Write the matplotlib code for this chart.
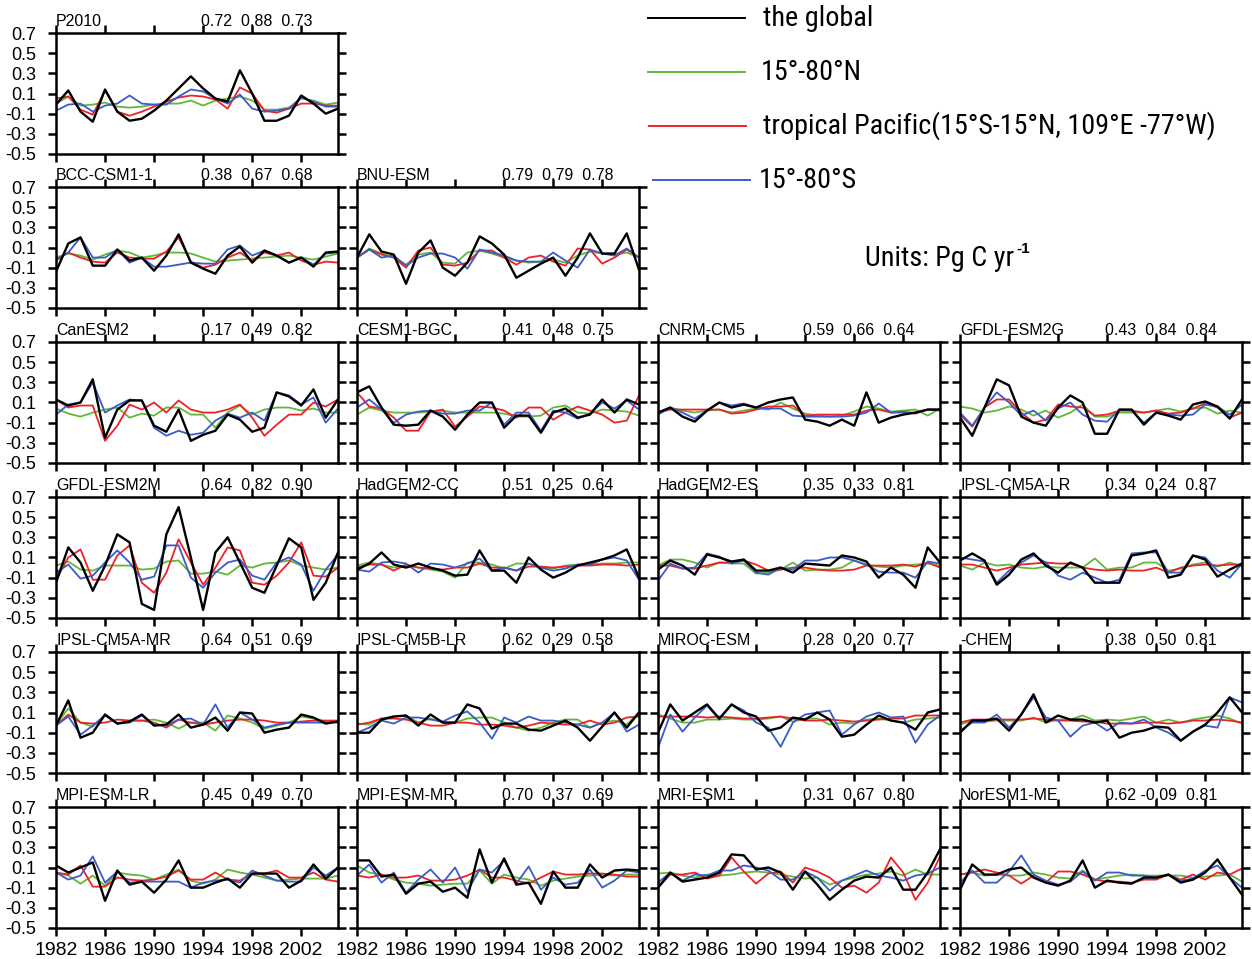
import os
import numpy as np
import matplotlib
matplotlib.use("Agg")
import matplotlib.pyplot as plt
from matplotlib import font_manager
from matplotlib.font_manager import FontProperties

# ---- data (Pg C / yr anomalies), 1982-2005 ----
years = list(range(1982, 2006))

P2010_GLB = [-0.01, 0.13, -0.08, -0.18, 0.14, -0.08, -0.17, -0.15, -0.07, 0.03, 0.15, 0.27, 0.15, 0.05, 0.02, 0.33, 0.10, -0.17, -0.17, -0.12, 0.08, 0.00, -0.10, -0.05]
P2010_NH = [0.00, 0.07, -0.02, -0.01, 0.01, -0.03, -0.04, -0.03, -0.01, 0.00, 0.00, 0.03, -0.02, 0.03, 0.05, 0.07, 0.03, -0.06, -0.06, -0.04, 0.05, 0.03, -0.01, 0.01]
P2010_TP = [0.05, 0.07, -0.06, -0.11, 0.13, -0.08, -0.12, -0.08, -0.03, 0.02, 0.06, 0.08, 0.07, 0.04, -0.05, 0.16, 0.10, -0.07, -0.09, -0.05, 0.00, 0.00, -0.02, -0.02]
P2010_SH = [-0.07, -0.01, 0.00, -0.08, -0.02, 0.00, 0.08, 0.00, -0.01, -0.01, 0.07, 0.14, 0.12, 0.05, 0.00, 0.09, -0.05, -0.08, -0.07, -0.05, 0.06, 0.02, -0.03, -0.03]

BCC_GLB = [-0.14, 0.14, 0.20, -0.08, -0.08, 0.08, -0.03, 0.00, -0.13, 0.02, 0.23, -0.05, -0.11, -0.16, 0.02, 0.11, -0.05, 0.07, 0.02, -0.05, 0.00, -0.09, 0.05, 0.06]
BCC_NH = [0.00, 0.04, 0.02, -0.02, 0.03, 0.07, 0.05, 0.00, 0.02, 0.05, 0.05, 0.04, 0.00, -0.04, -0.03, -0.02, -0.01, 0.00, 0.01, 0.02, 0.00, -0.02, 0.01, 0.04]
BCC_TP = [-0.02, 0.05, 0.00, -0.04, -0.05, 0.05, 0.00, -0.01, -0.01, 0.06, 0.20, -0.04, -0.10, -0.07, 0.00, 0.05, -0.03, 0.05, 0.02, 0.05, -0.03, -0.07, -0.04, -0.05]
BCC_SH = [-0.03, 0.05, 0.20, 0.00, 0.00, 0.08, -0.05, 0.00, -0.09, -0.09, -0.07, -0.05, -0.06, -0.06, 0.08, 0.12, 0.02, 0.07, 0.02, -0.05, 0.00, -0.07, 0.04, 0.05]

BNU_GLB = [0.00, 0.23, 0.06, 0.03, -0.26, 0.05, 0.17, -0.10, -0.18, -0.05, 0.21, 0.14, 0.03, -0.20, -0.13, -0.06, 0.00, -0.18, 0.00, 0.24, 0.04, 0.04, 0.24, -0.12]
BNU_NH = [0.00, 0.09, 0.04, 0.00, -0.07, 0.03, 0.05, -0.05, -0.06, 0.05, 0.07, 0.04, 0.00, -0.03, -0.05, -0.04, -0.02, -0.05, 0.02, 0.06, 0.04, 0.03, 0.05, 0.00]
BNU_TP = [0.00, 0.08, 0.03, 0.00, -0.10, 0.07, 0.10, -0.07, -0.08, -0.05, 0.07, 0.07, 0.00, -0.07, 0.00, 0.02, -0.04, -0.08, 0.09, 0.08, -0.06, 0.00, 0.08, 0.00]
BNU_SH = [0.00, 0.08, 0.00, 0.02, -0.08, 0.00, 0.04, 0.04, 0.00, -0.11, 0.08, 0.05, 0.02, -0.03, -0.04, -0.04, 0.05, -0.03, -0.10, 0.08, 0.04, 0.02, 0.09, 0.00]

CAN_GLB = [0.13, 0.07, 0.10, 0.33, -0.25, 0.03, 0.12, 0.12, -0.13, -0.19, 0.03, -0.28, -0.22, -0.18, -0.02, -0.07, -0.19, -0.15, 0.20, 0.16, 0.07, 0.23, -0.05, 0.13]
CAN_NH = [0.04, -0.01, -0.04, 0.00, 0.03, 0.05, -0.05, -0.01, -0.03, 0.05, 0.05, -0.02, -0.02, -0.15, 0.00, 0.07, -0.02, 0.03, 0.05, 0.05, 0.02, 0.04, 0.00, 0.00]
CAN_TP = [0.13, 0.05, 0.07, 0.07, -0.28, -0.13, 0.08, 0.03, 0.10, 0.00, 0.12, 0.03, 0.00, 0.00, 0.03, 0.08, -0.05, -0.23, -0.12, -0.02, -0.02, 0.10, 0.06, 0.13]
CAN_SH = [-0.02, 0.08, 0.10, 0.30, 0.00, 0.07, 0.13, 0.12, -0.15, -0.23, -0.18, -0.22, -0.20, -0.08, -0.01, -0.05, 0.00, -0.08, 0.20, 0.17, 0.08, 0.15, -0.10, 0.04]

CESM_GLB = [0.20, 0.26, 0.05, -0.12, -0.13, -0.12, 0.02, -0.04, -0.17, -0.02, 0.10, 0.10, -0.15, -0.03, -0.03, -0.20, 0.00, 0.04, -0.05, -0.02, 0.13, 0.00, 0.13, 0.08]
CESM_NH = [-0.02, 0.05, 0.02, 0.00, 0.00, 0.00, 0.01, 0.02, 0.00, 0.00, 0.00, 0.00, -0.01, -0.04, -0.04, -0.03, 0.05, 0.07, 0.00, -0.01, 0.03, 0.02, 0.01, -0.03]
CESM_TP = [0.20, 0.06, 0.04, -0.05, -0.18, -0.18, 0.01, 0.03, -0.14, -0.04, 0.06, 0.05, 0.02, -0.05, 0.05, 0.05, -0.07, 0.00, 0.06, 0.02, -0.02, -0.10, -0.08, 0.17]
CESM_SH = [0.05, 0.13, 0.03, -0.10, -0.02, 0.01, 0.02, -0.01, -0.01, 0.02, 0.02, 0.10, -0.12, 0.00, 0.00, -0.18, 0.02, 0.00, -0.06, -0.01, 0.10, 0.04, 0.12, 0.03]

CNRM_GLB = [0.00, 0.05, -0.04, -0.09, 0.02, 0.10, 0.05, 0.08, 0.05, 0.10, 0.13, 0.15, -0.07, -0.09, -0.13, -0.07, -0.13, 0.20, -0.10, -0.05, -0.02, 0.00, 0.03, 0.03]
CNRM_NH = [-0.01, 0.05, 0.02, 0.00, 0.02, 0.03, 0.00, 0.02, 0.04, 0.03, 0.10, 0.04, -0.01, -0.03, -0.04, -0.03, 0.01, 0.06, 0.04, 0.01, 0.02, 0.03, -0.03, 0.04]
CNRM_TP = [0.00, 0.03, 0.03, 0.03, 0.03, 0.03, -0.01, 0.00, 0.03, 0.06, 0.06, 0.07, -0.03, -0.02, -0.02, -0.02, -0.02, 0.02, 0.03, 0.00, 0.01, -0.01, 0.03, 0.03]
CNRM_SH = [-0.02, 0.05, 0.00, -0.06, 0.02, 0.10, 0.07, 0.09, 0.05, 0.04, 0.04, -0.03, -0.04, -0.04, -0.04, -0.04, -0.03, 0.00, 0.09, 0.00, 0.00, 0.00, 0.03, 0.02]

G2G_GLB = [-0.05, -0.23, 0.05, 0.33, 0.27, -0.04, -0.10, -0.13, 0.05, 0.17, 0.10, -0.21, -0.21, 0.03, 0.03, -0.12, 0.00, -0.03, -0.07, 0.08, 0.11, 0.06, -0.06, 0.13]
G2G_NH = [0.06, 0.04, 0.00, 0.02, 0.06, 0.03, -0.03, 0.02, -0.05, 0.00, 0.08, -0.04, -0.04, 0.00, 0.00, 0.00, 0.02, 0.04, 0.01, 0.04, 0.05, -0.01, 0.02, 0.00]
G2G_TP = [-0.02, -0.14, 0.05, 0.13, 0.13, 0.00, -0.10, -0.07, 0.08, 0.06, 0.05, -0.03, -0.02, 0.02, 0.02, 0.00, 0.02, -0.01, 0.00, 0.04, 0.09, 0.05, -0.05, 0.00]
G2G_SH = [0.00, -0.13, 0.05, 0.20, 0.10, -0.03, 0.02, -0.08, 0.04, 0.10, -0.02, -0.08, -0.09, 0.03, 0.02, -0.10, 0.00, -0.02, -0.03, -0.02, 0.08, 0.06, -0.02, 0.08]

G2M_GLB = [-0.15, 0.20, 0.05, -0.23, 0.02, 0.33, 0.25, -0.36, -0.42, 0.33, 0.60, 0.10, -0.42, 0.15, 0.30, 0.05, -0.20, -0.25, 0.02, 0.29, 0.20, -0.32, -0.15, 0.15]
G2M_NH = [0.02, 0.06, -0.02, -0.03, 0.02, 0.02, 0.02, -0.02, -0.01, 0.06, 0.07, -0.06, -0.06, -0.04, -0.07, 0.02, 0.00, 0.04, 0.05, 0.07, 0.02, 0.00, -0.02, 0.00]
G2M_TP = [-0.12, 0.10, 0.18, -0.12, -0.12, 0.12, 0.22, -0.15, -0.25, -0.05, 0.28, 0.05, -0.17, 0.00, 0.20, 0.17, -0.15, -0.17, -0.08, 0.05, 0.25, -0.08, -0.09, 0.00]
G2M_SH = [-0.05, 0.03, -0.11, -0.08, 0.05, 0.17, 0.05, -0.12, -0.09, 0.22, 0.22, -0.10, -0.20, -0.05, 0.05, 0.08, -0.08, -0.12, 0.05, 0.10, 0.03, -0.23, -0.02, 0.13]

HCC_GLB = [-0.02, 0.04, 0.15, 0.03, 0.00, 0.04, 0.00, -0.03, -0.08, -0.07, 0.17, -0.03, -0.03, -0.15, 0.10, -0.02, -0.10, -0.05, 0.02, 0.05, 0.08, 0.12, 0.18, -0.10]
HCC_NH = [0.02, 0.05, 0.03, 0.00, 0.02, 0.00, -0.02, -0.04, -0.10, 0.05, 0.05, 0.03, -0.01, 0.04, 0.04, 0.00, -0.01, 0.02, 0.03, 0.03, 0.04, 0.04, 0.05, 0.05]
HCC_TP = [0.00, 0.03, 0.03, -0.03, 0.03, 0.00, -0.01, -0.02, 0.00, 0.00, 0.04, 0.00, 0.00, -0.03, 0.01, 0.01, 0.00, 0.01, 0.02, 0.02, 0.03, 0.03, 0.02, 0.03]
HCC_SH = [-0.02, -0.04, 0.05, 0.06, 0.04, -0.05, 0.04, 0.03, 0.00, 0.04, 0.09, -0.03, 0.00, -0.03, 0.04, 0.00, -0.03, -0.01, 0.03, 0.03, 0.08, 0.10, 0.07, -0.12]

HES_GLB = [-0.02, 0.07, 0.02, -0.07, 0.13, 0.10, 0.06, 0.08, -0.03, -0.03, 0.00, -0.05, 0.04, 0.03, 0.02, 0.12, 0.10, 0.06, -0.10, 0.00, -0.07, -0.20, 0.20, 0.05]
HES_NH = [0.02, 0.08, 0.08, 0.05, 0.00, 0.05, 0.04, 0.04, -0.06, -0.05, -0.02, 0.05, -0.03, -0.02, -0.02, 0.00, 0.07, 0.02, 0.01, 0.00, 0.02, 0.03, 0.04, 0.02]
HES_TP = [0.02, 0.02, -0.01, -0.01, 0.02, 0.05, 0.05, 0.07, 0.03, -0.03, -0.02, 0.00, 0.00, -0.02, -0.03, -0.03, -0.02, 0.02, 0.02, 0.02, 0.03, 0.01, 0.05, 0.00]
HES_SH = [-0.13, 0.04, -0.01, 0.00, 0.14, 0.11, 0.04, 0.07, -0.05, -0.07, 0.00, -0.02, 0.07, 0.07, 0.10, 0.10, 0.07, 0.03, -0.04, -0.05, -0.05, -0.10, 0.06, 0.04]

IALR_GLB = [0.07, 0.14, 0.07, -0.17, -0.07, 0.08, 0.14, 0.02, -0.05, 0.05, 0.00, -0.15, -0.15, -0.15, 0.12, 0.14, 0.17, -0.10, -0.07, 0.12, 0.08, -0.09, -0.02, 0.04]
IALR_NH = [0.02, -0.02, 0.05, 0.02, 0.03, 0.00, -0.01, 0.01, 0.00, 0.00, 0.00, 0.09, -0.02, 0.00, 0.00, 0.05, 0.05, -0.03, -0.01, 0.03, 0.05, 0.01, 0.05, 0.01]
IALR_TP = [0.03, 0.03, 0.00, -0.03, 0.00, 0.03, 0.04, 0.05, 0.04, 0.04, 0.00, -0.02, -0.03, -0.02, -0.03, -0.03, 0.00, -0.05, 0.00, 0.02, 0.03, 0.02, 0.03, 0.03]
IALR_SH = [0.10, 0.08, 0.06, -0.15, -0.03, 0.05, 0.12, 0.05, -0.08, -0.12, -0.05, -0.10, -0.15, -0.12, 0.14, 0.15, 0.15, -0.05, -0.05, 0.12, 0.10, -0.03, -0.10, 0.04]

IAMR_GLB = [-0.03, 0.22, -0.15, -0.10, 0.08, -0.01, 0.01, 0.08, -0.03, -0.02, 0.08, -0.05, -0.02, 0.05, -0.08, 0.10, 0.09, -0.10, -0.07, -0.05, 0.08, 0.05, -0.01, 0.01]
IAMR_NH = [-0.02, 0.14, 0.00, -0.04, 0.08, -0.01, 0.02, 0.02, 0.03, 0.00, -0.06, 0.00, 0.00, -0.08, 0.07, 0.04, 0.00, -0.06, -0.03, 0.00, 0.06, 0.04, 0.01, 0.00]
IAMR_TP = [-0.03, 0.08, 0.00, -0.01, 0.00, 0.03, 0.02, 0.02, 0.00, -0.05, 0.03, 0.00, -0.02, 0.00, 0.02, 0.03, 0.03, 0.02, 0.00, 0.00, 0.01, 0.02, 0.02, 0.02]
IAMR_SH = [-0.03, 0.06, -0.12, -0.03, 0.07, -0.01, 0.00, 0.07, -0.02, -0.03, 0.03, 0.04, -0.02, 0.18, -0.05, 0.10, 0.03, -0.05, -0.02, 0.00, 0.00, 0.00, 0.00, 0.01]

IBLR_GLB = [-0.10, -0.10, 0.03, 0.06, 0.07, -0.03, 0.08, 0.00, 0.00, 0.18, 0.14, -0.06, -0.01, -0.01, -0.07, -0.08, -0.03, 0.02, -0.05, -0.18, -0.04, 0.10, -0.05, 0.10]
IBLR_NH = [-0.01, -0.02, 0.04, 0.06, 0.07, 0.00, 0.04, 0.00, 0.00, 0.04, 0.05, 0.05, 0.00, -0.05, -0.08, -0.05, 0.00, 0.03, 0.03, -0.05, 0.00, 0.02, -0.02, 0.10]
IBLR_TP = [-0.02, 0.00, 0.04, 0.04, 0.03, 0.00, -0.03, -0.03, 0.00, 0.00, -0.02, -0.02, -0.03, -0.05, -0.03, 0.00, -0.01, -0.02, -0.02, 0.02, -0.02, 0.00, 0.05, 0.06]
IBLR_SH = [-0.10, -0.05, 0.02, -0.01, 0.05, 0.05, 0.03, 0.01, 0.07, 0.11, 0.00, -0.16, 0.05, 0.00, 0.06, 0.02, 0.02, 0.00, -0.02, -0.05, 0.00, 0.10, -0.09, -0.02]

MIR_GLB = [-0.10, 0.18, 0.02, 0.10, 0.18, 0.04, 0.18, 0.10, 0.06, -0.08, -0.05, 0.05, 0.03, 0.10, 0.03, -0.14, -0.12, -0.02, 0.07, 0.02, 0.00, -0.07, 0.10, 0.13]
MIR_NH = [0.08, 0.04, 0.00, 0.00, 0.03, 0.03, 0.04, 0.03, 0.03, 0.04, 0.06, 0.01, 0.04, 0.04, -0.02, 0.00, -0.01, 0.03, 0.04, 0.02, 0.00, 0.03, 0.04, 0.05]
MIR_TP = [0.06, 0.06, 0.06, 0.06, 0.05, 0.06, 0.05, 0.04, 0.04, 0.05, 0.06, 0.04, 0.02, 0.02, 0.03, 0.02, 0.01, 0.02, 0.03, 0.04, 0.04, 0.07, 0.07, 0.07]
MIR_SH = [-0.25, 0.08, -0.09, 0.05, 0.17, 0.03, 0.18, 0.12, 0.00, -0.05, -0.24, 0.00, 0.08, 0.10, 0.12, -0.12, -0.02, 0.06, 0.10, 0.05, 0.06, -0.20, -0.02, 0.07]

MIRC_GLB = [-0.10, 0.02, 0.02, 0.04, -0.08, 0.08, 0.28, 0.00, 0.07, 0.03, 0.03, 0.00, 0.02, -0.15, -0.10, -0.08, -0.04, -0.05, -0.18, -0.09, -0.02, 0.10, 0.25, 0.10]
MIRC_NH = [-0.02, 0.02, 0.01, 0.02, 0.02, 0.02, 0.05, 0.00, 0.03, 0.03, 0.07, 0.02, 0.03, 0.02, 0.04, 0.06, 0.00, 0.03, 0.00, 0.03, 0.05, 0.07, 0.04, -0.01]
MIRC_TP = [0.00, 0.03, 0.03, 0.03, 0.03, 0.03, 0.04, 0.03, 0.02, 0.02, 0.01, 0.01, -0.01, -0.01, -0.01, 0.00, 0.00, -0.01, 0.00, 0.02, 0.02, 0.03, 0.02, 0.00]
MIRC_SH = [-0.08, 0.00, 0.00, 0.08, -0.05, 0.08, 0.25, 0.05, 0.02, -0.14, -0.03, 0.00, -0.08, 0.00, -0.01, 0.03, -0.05, -0.10, -0.18, -0.09, -0.03, -0.05, 0.25, 0.20]

MLR_GLB = [0.12, 0.05, 0.10, 0.15, -0.23, 0.07, -0.07, -0.04, -0.15, -0.02, 0.17, -0.10, -0.10, -0.05, -0.01, -0.10, 0.04, 0.04, 0.04, -0.10, -0.03, 0.13, -0.01, 0.10]
MLR_NH = [0.05, 0.02, -0.06, 0.02, -0.08, 0.05, 0.03, 0.02, -0.02, 0.03, 0.08, -0.03, -0.06, -0.02, 0.08, 0.05, 0.03, 0.00, -0.03, -0.02, -0.01, -0.01, -0.01, 0.02]
MLR_TP = [0.05, 0.03, 0.12, -0.09, -0.09, 0.00, -0.02, -0.03, -0.02, 0.01, 0.07, -0.02, -0.02, 0.05, -0.02, -0.03, 0.04, 0.04, 0.07, 0.00, 0.00, 0.05, -0.02, -0.04]
MLR_SH = [0.05, -0.02, 0.02, 0.21, -0.05, 0.06, -0.05, -0.04, -0.04, -0.04, -0.04, -0.10, -0.05, -0.03, -0.02, -0.05, 0.07, 0.02, -0.03, -0.04, -0.04, 0.10, 0.02, 0.10]

MMR_GLB = [0.17, 0.17, 0.01, 0.03, -0.16, -0.06, -0.04, -0.14, -0.10, -0.20, 0.28, -0.05, 0.19, -0.07, -0.05, -0.26, 0.06, -0.10, -0.10, 0.13, 0.00, 0.07, 0.08, 0.07]
MMR_NH = [0.12, 0.05, 0.03, -0.02, -0.05, -0.06, -0.08, -0.07, -0.06, -0.06, 0.07, -0.06, 0.03, 0.00, -0.02, -0.08, -0.03, -0.01, 0.01, 0.02, 0.03, 0.02, 0.03, 0.03]
MMR_TP = [0.02, 0.00, 0.03, 0.00, 0.00, 0.02, -0.03, -0.03, -0.02, 0.02, 0.08, 0.00, 0.00, -0.03, -0.06, 0.00, 0.06, 0.03, 0.03, 0.04, 0.04, 0.03, 0.01, 0.01]
MMR_SH = [0.02, 0.13, -0.05, 0.05, -0.15, -0.02, 0.08, -0.05, 0.10, -0.14, 0.08, 0.05, 0.17, -0.06, 0.11, -0.12, 0.00, -0.07, -0.05, 0.08, -0.10, -0.03, 0.07, 0.05]

MRI_GLB = [-0.10, 0.05, -0.04, -0.02, 0.00, 0.05, 0.23, 0.22, 0.08, 0.10, 0.05, -0.12, 0.06, -0.07, -0.22, -0.12, -0.03, 0.01, 0.00, 0.10, -0.12, -0.12, 0.05, 0.28]
MRI_NH = [0.04, 0.05, 0.02, 0.00, 0.03, 0.02, 0.03, 0.05, 0.06, 0.05, 0.03, 0.01, -0.01, 0.00, -0.07, -0.03, 0.00, 0.03, 0.04, 0.06, 0.02, 0.08, 0.03, 0.03]
MRI_TP = [-0.10, 0.03, 0.03, 0.05, -0.01, 0.02, 0.20, 0.06, -0.06, 0.04, 0.06, -0.05, 0.10, 0.06, 0.00, -0.10, -0.08, -0.15, -0.05, 0.20, 0.05, -0.22, -0.05, 0.21]
MRI_SH = [-0.05, 0.05, -0.03, 0.03, 0.02, 0.07, 0.07, 0.12, 0.10, 0.07, -0.02, -0.02, 0.06, 0.00, -0.13, -0.03, 0.02, 0.07, 0.02, 0.00, -0.03, 0.02, 0.04, 0.10]

NOR_GLB = [-0.12, 0.13, 0.03, 0.03, 0.08, 0.10, 0.00, -0.05, -0.08, -0.03, 0.17, -0.10, -0.03, -0.05, -0.06, 0.00, 0.00, 0.03, -0.05, -0.02, 0.05, 0.18, 0.00, -0.17]
NOR_NH = [0.03, 0.05, 0.02, 0.03, 0.02, 0.02, 0.05, 0.03, 0.00, -0.01, 0.07, -0.02, 0.00, 0.02, 0.03, 0.02, 0.02, 0.02, 0.02, 0.00, 0.01, 0.02, 0.03, -0.04]
NOR_TP = [0.03, 0.05, 0.08, 0.05, 0.02, -0.06, 0.02, -0.05, 0.06, 0.06, 0.03, -0.02, -0.04, -0.04, -0.05, -0.02, -0.02, 0.03, -0.02, 0.03, -0.02, 0.05, 0.03, 0.09]
NOR_SH = [-0.05, 0.07, -0.05, -0.05, 0.06, 0.22, 0.03, -0.03, -0.07, -0.04, 0.06, -0.03, 0.05, 0.05, 0.02, 0.02, 0.00, 0.03, -0.03, -0.01, 0.07, 0.12, 0.00, -0.10]

# panel name, row, col, correlation text, (global, NH, tropical Pacific, SH)
panels = [
    ("P2010", 0, 0, "0.72  0.88  0.73", (P2010_GLB, P2010_NH, P2010_TP, P2010_SH)),
    ("BCC-CSM1-1", 1, 0, "0.38  0.67  0.68", (BCC_GLB, BCC_NH, BCC_TP, BCC_SH)),
    ("BNU-ESM", 1, 1, "0.79  0.79  0.78", (BNU_GLB, BNU_NH, BNU_TP, BNU_SH)),
    ("CanESM2", 2, 0, "0.17  0.49  0.82", (CAN_GLB, CAN_NH, CAN_TP, CAN_SH)),
    ("CESM1-BGC", 2, 1, "0.41  0.48  0.75", (CESM_GLB, CESM_NH, CESM_TP, CESM_SH)),
    ("CNRM-CM5", 2, 2, "0.59  0.66  0.64", (CNRM_GLB, CNRM_NH, CNRM_TP, CNRM_SH)),
    ("GFDL-ESM2G", 2, 3, "0.43  0.84  0.84", (G2G_GLB, G2G_NH, G2G_TP, G2G_SH)),
    ("GFDL-ESM2M", 3, 0, "0.64  0.82  0.90", (G2M_GLB, G2M_NH, G2M_TP, G2M_SH)),
    ("HadGEM2-CC", 3, 1, "0.51  0.25  0.64", (HCC_GLB, HCC_NH, HCC_TP, HCC_SH)),
    ("HadGEM2-ES", 3, 2, "0.35  0.33  0.81", (HES_GLB, HES_NH, HES_TP, HES_SH)),
    ("IPSL-CM5A-LR", 3, 3, "0.34  0.24  0.87", (IALR_GLB, IALR_NH, IALR_TP, IALR_SH)),
    ("IPSL-CM5A-MR", 4, 0, "0.64  0.51  0.69", (IAMR_GLB, IAMR_NH, IAMR_TP, IAMR_SH)),
    ("IPSL-CM5B-LR", 4, 1, "0.62  0.29  0.58", (IBLR_GLB, IBLR_NH, IBLR_TP, IBLR_SH)),
    ("MIROC-ESM", 4, 2, "0.28  0.20  0.77", (MIR_GLB, MIR_NH, MIR_TP, MIR_SH)),
    ("-CHEM", 4, 3, "0.38  0.50  0.81", (MIRC_GLB, MIRC_NH, MIRC_TP, MIRC_SH)),
    ("MPI-ESM-LR", 5, 0, "0.45  0.49  0.70", (MLR_GLB, MLR_NH, MLR_TP, MLR_SH)),
    ("MPI-ESM-MR", 5, 1, "0.70  0.37  0.69", (MMR_GLB, MMR_NH, MMR_TP, MMR_SH)),
    ("MRI-ESM1", 5, 2, "0.31  0.67  0.80", (MRI_GLB, MRI_NH, MRI_TP, MRI_SH)),
    ("NorESM1-ME", 5, 3, "0.62 -0.09  0.81", (NOR_GLB, NOR_NH, NOR_TP, NOR_SH)),
]

legend_labels = ["the global", "15\u00b0-80\u00b0N",
                 "tropical Pacific(15\u00b0S-15\u00b0N, 109\u00b0E -77\u00b0W)", "15\u00b0-80\u00b0S"]

C_GLB = "black"
C_NH = "#62b836"
C_TP = "#ec2227"
C_SH = "#3b5bc8"

plt.rcParams["font.family"] = ["Liberation Sans", "DejaVu Sans"]

# a condensed face for the legend, if one is installed
narrow_file = None
prefs = ["liberationsansnarrow-regular", "robotocondensed-regular", "notosans-condensed.",
         "dejavusanscondensed.", "opensans_condensed-regular", "opensans-condensed"]
files = [f.fname for f in font_manager.fontManager.ttflist]
for key in prefs:
    hit = [p for p in files if key in os.path.basename(p).lower()]
    if hit:
        narrow_file = hit[0]
        break


def legend_font(size):
    if narrow_file:
        return FontProperties(fname=narrow_file, size=size)
    return FontProperties(family="Liberation Sans", size=size)


W, H = 1252, 959
fig = plt.figure(figsize=(W / 100, H / 100), dpi=100)

col_left = [56, 357, 658, 960]
row_top = [33, 187, 342, 497, 652, 807]
pw, ph = 282, 121

for name, r, c, corr, (glb, nh, tp, sh) in panels:
    ax = fig.add_axes([col_left[c] / W, 1 - (row_top[r] + ph) / H, pw / W, ph / H])
    ax.plot(years, nh, color=C_NH, lw=1.3)
    ax.plot(years, tp, color=C_TP, lw=1.3)
    ax.plot(years, sh, color=C_SH, lw=1.3)
    ax.plot(years, glb, color=C_GLB, lw=1.7)
    ax.set_xlim(1982, 2005)
    ax.set_ylim(-0.5, 0.7)
    ax.set_xticks(range(1982, 2005, 4))
    ax.set_yticks(np.arange(-0.5, 0.71, 0.2))
    ax.set_yticklabels(["%.1f" % v for v in np.arange(-0.5, 0.71, 0.2)])
    ax.tick_params(direction="out", length=6, width=1.8, top=True, right=True)
    ax.tick_params(axis="y", labelsize=13, pad=8)
    ax.tick_params(axis="x", labelsize=14, pad=4)
    for s in ax.spines.values():
        s.set_linewidth(1.8)
    if r != 5:
        ax.set_xticklabels([])
    if c != 0:
        ax.set_yticklabels([])
    ax.text(0.0, 1.055, name, transform=ax.transAxes, ha="left", va="baseline", fontsize=11.5)
    ax.text(0.515, 1.055, corr, transform=ax.transAxes, ha="left", va="baseline", fontsize=11.5)

# legend block (pixel coordinates of the figure)
lax = fig.add_axes([0, 0, 1, 1])
lax.set_xlim(0, W)
lax.set_ylim(H, 0)
lax.axis("off")

# size the legend font so that "the global" is as wide as in the original
renderer = fig.canvas.get_renderer()
probe = lax.text(0, 0, legend_labels[0], fontproperties=legend_font(22))
wpx = probe.get_window_extent(renderer).width
probe.remove()
leg_size = 22 * 110.0 / wpx

leg_y = [18, 72, 126, 180]
leg_colors = [C_GLB, C_NH, C_TP, C_SH]
leg_x0 = [648, 648, 649, 653]
leg_tx = [763, 761, 763, 759]
for y, col, x0, tx, lab in zip(leg_y, leg_colors, leg_x0, leg_tx, legend_labels):
    lax.plot([x0, x0 + 97], [y, y], color=col, lw=1.4)
    lax.text(tx, y, lab, ha="left", va="center", fontproperties=legend_font(leg_size))

u = lax.text(865, 258, "Units: Pg C yr", ha="left", va="center",
             fontproperties=legend_font(leg_size))
ubox = u.get_window_extent(renderer)
lax.text(865 + ubox.width + 2, 249, "-1", ha="left", va="center",
         fontsize=11, fontweight="bold", family=["Liberation Sans", "DejaVu Sans"])

fig.savefig("out.png", dpi=100)
